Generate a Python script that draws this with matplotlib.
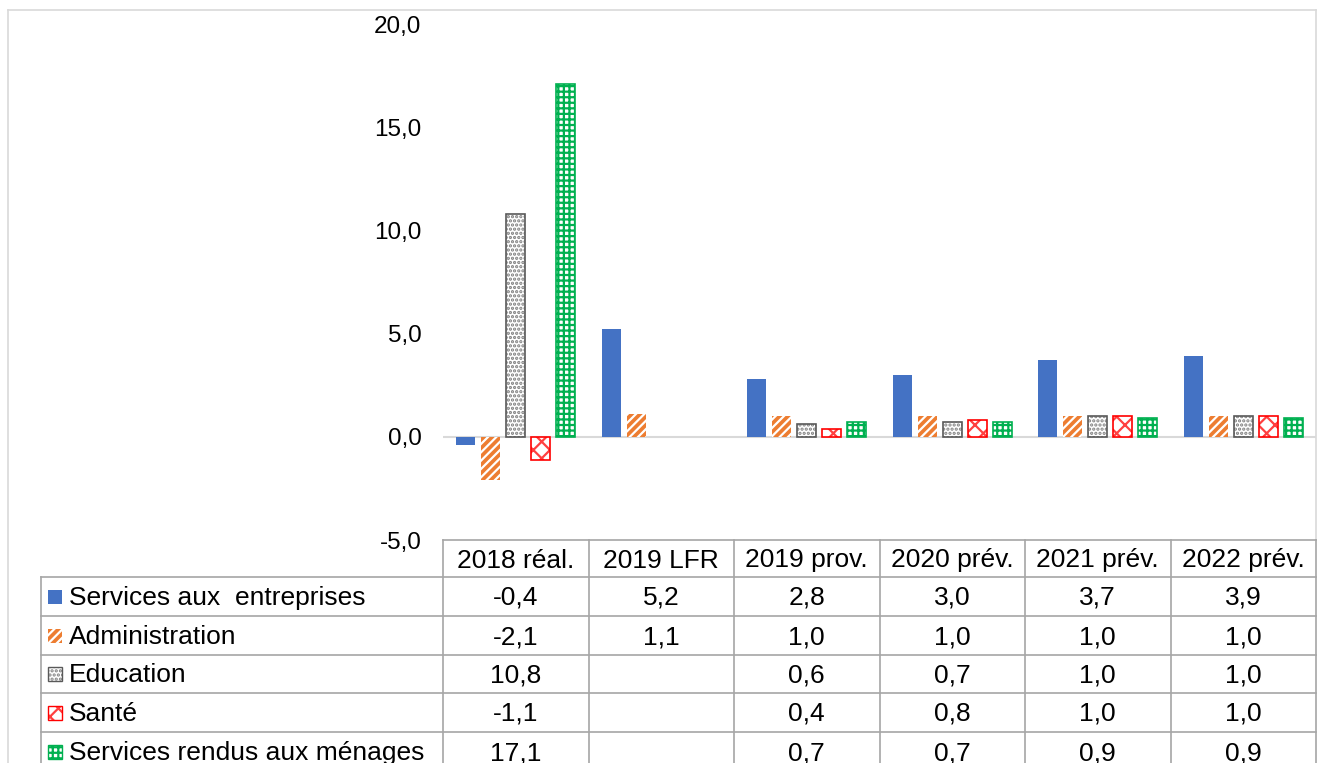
import numpy as np
import matplotlib
matplotlib.use("Agg")
import matplotlib.pyplot as plt
from matplotlib.patches import Rectangle
from matplotlib.ticker import FuncFormatter

plt.rcParams['font.family'] = ['Liberation Sans', 'DejaVu Sans']
plt.rcParams['hatch.linewidth'] = 1.6

# données
categories = ["2018 réal.", "2019 LFR", "2019 prov.", "2020 prév.", "2021 prév.", "2022 prév."]
series_names = ["Services aux  entreprises", "Administration", "Education", "Santé",
                "Services rendus aux ménages"]
entreprises = [-0.4, 5.2, 2.8, 3.0, 3.7, 3.9]
administration = [-2.1, 1.1, 1.0, 1.0, 1.0, 1.0]
education = [10.8, None, 0.6, 0.7, 1.0, 1.0]
sante = [-1.1, None, 0.4, 0.8, 1.0, 1.0]
menages = [17.1, None, 0.7, 0.7, 0.9, 0.9]
series = [entreprises, administration, education, sante, menages]

# style des barres (face, bord, hachure)
styles = [
    dict(facecolor="#4472C4", edgecolor="#4472C4", hatch=None),
    dict(facecolor="#ED7D31", edgecolor="white", hatch="////"),
    dict(facecolor="white", edgecolor="#7F7F7F", hatch="...."),
    dict(facecolor="white", edgecolor="#FF4040", hatch="xx"),
    dict(facecolor="white", edgecolor="#00B050", hatch="+++"),
]
border_colors = [None, None, "#595959", "#FF0000", "#00B050"]

W, H = 1322, 763
fig = plt.figure(figsize=(W / 100, H / 100), dpi=100)

# axe de dessin en pixels pour le tableau et le cadre
over = fig.add_axes([0, 0, 1, 1])
over.set_xlim(0, W)
over.set_ylim(H, 0)
over.axis("off")

# axe des barres
x0, x1 = 443, 1316
y_top, y_bot = 24, 540
ax = fig.add_axes([x0 / W, 1 - y_bot / H, (x1 - x0) / W, (y_bot - y_top) / H])
ax.set_zorder(2)
ax.patch.set_alpha(0)
ax.set_xlim(0, len(categories))
ax.set_ylim(-5, 20)
ax.set_yticks(np.arange(-5, 21, 5))
ax.yaxis.set_major_formatter(FuncFormatter(lambda v, p: f"{v:.1f}".replace(".", ",")))
ax.tick_params(axis="y", length=0, pad=15.5, labelsize=17.5)
ax.set_xticks([])
for s in ax.spines.values():
    s.set_visible(False)
ax.axhline(0, color="#D9D9D9", lw=1.5, zorder=1)

xs = np.arange(len(categories)) + 0.5
bw = 0.13
step = 0.172
for i, (vals, st) in enumerate(zip(series, styles)):
    v = np.array([np.nan if a is None else a for a in vals], dtype=float)
    ax.bar(xs + (i - 2) * step, v, width=bw, linewidth=0, zorder=2, **st)
    if border_colors[i]:
        ax.bar(xs + (i - 2) * step, v, width=bw, facecolor="none",
               edgecolor=border_colors[i], linewidth=1.2, zorder=3)

# cadre extérieur
frame = "#D9D9D9"
over.plot([8, 8], [10, H], color=frame, lw=1.2)
over.plot([8, 1316], [10, 10], color=frame, lw=1.2)
over.plot([1316, 1316], [10, 540], color=frame, lw=1.2)

# tableau de données
grid = "#A6A6A6"
col_edges = np.linspace(x0, x1, len(categories) + 1)
row_edges = [577, 616, 655, 693, 732, 771]
leg_left = 41
over.plot([x0, x1], [540, 540], color=grid, lw=1.2)
for xe in col_edges:
    over.plot([xe, xe], [540, H], color=grid, lw=1.2)
over.plot([leg_left, leg_left], [row_edges[0], H], color=grid, lw=1.2)
for ye in row_edges[:-1]:
    over.plot([leg_left, x1], [ye, ye], color=grid, lw=1.2)

fs = 19
for j, c in enumerate(categories):
    over.text((col_edges[j] + col_edges[j + 1]) / 2, 558, c, ha="center",
              va="center_baseline", fontsize=fs)

for i, (name, vals, st) in enumerate(zip(series_names, series, styles)):
    yc = (row_edges[i] + row_edges[i + 1]) / 2
    over.add_patch(Rectangle((48, yc - 7), 14, 14, linewidth=0, **st))
    if border_colors[i]:
        over.add_patch(Rectangle((48, yc - 7), 14, 14, facecolor="none",
                                 edgecolor=border_colors[i], linewidth=1))
    over.text(69, yc - 1, name, ha="left", va="center_baseline", fontsize=fs)
    for j, v in enumerate(vals):
        if v is None:
            continue
        over.text((col_edges[j] + col_edges[j + 1]) / 2, yc - 1, f"{v:.1f}".replace(".", ","),
                  ha="center", va="center_baseline", fontsize=fs)

fig.savefig("out.png", dpi=100)
